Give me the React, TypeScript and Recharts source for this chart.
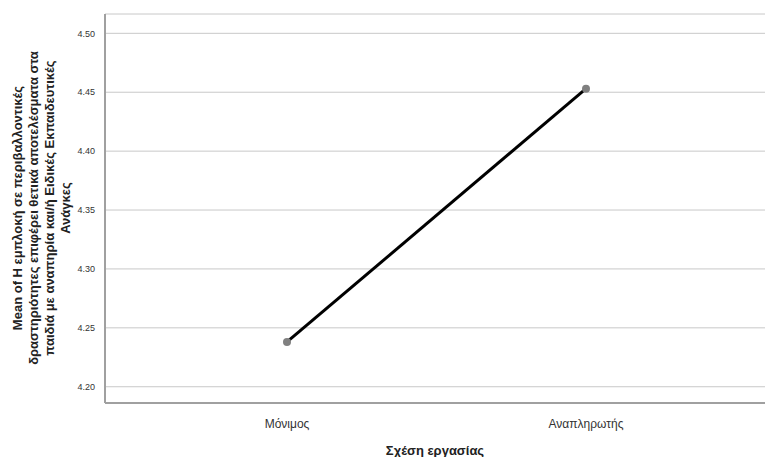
import { LineChart, Line, XAxis, YAxis, CartesianGrid } from 'recharts'

const categories = ['Μόνιμος', 'Αναπληρωτής']
const means = [4.238, 4.453]
const yTicks = [4.2, 4.25, 4.3, 4.35, 4.4, 4.45, 4.5]
const yTitleLines = [
  'Mean of Η εμπλοκή σε περιβαλλοντικές',
  'δραστηριότητες επιφέρει θετικά αποτελέσματα στα',
  'παιδιά με αναπηρία και/ή Ειδικές Εκπαιδευτικές',
  'Ανάγκες',
]

const data = categories.map((c, i) => ({ cat: c, mean: means[i] }))

const FONT = '"Liberation Sans", Arial, sans-serif'

function YTitle() {
  const cy = 208
  const xs = [17, 33, 49, 65]
  return (
    <g>
      {yTitleLines.map((t, i) => (
        <text
          key={i}
          x={xs[i]}
          y={cy}
          transform={`rotate(-90 ${xs[i]} ${cy})`}
          textAnchor="middle"
          dominantBaseline="central"
          fontFamily={FONT}
          fontSize={13}
          fontWeight="bold"
          fill="#222"
        >
          {t}
        </text>
      ))}
    </g>
  )
}

export default function App() {
  return (
    <div style={{ position: 'absolute', left: 0, top: 0, background: '#fff' }}>
      <LineChart
        width={765}
        height={457}
        data={data}
        margin={{ top: 14, right: 0, bottom: 0, left: 0 }}
      >
        <CartesianGrid vertical={false} stroke="#c8c8c8" strokeWidth={1} />
        <XAxis
          dataKey="cat"
          height={54}
          padding={{ left: 182, right: 179 }}
          axisLine={{ stroke: '#a0a0a0', strokeWidth: 2 }}
          tickLine={false}
          tick={{ fontSize: 12, fontFamily: FONT, fill: '#333' }}
          tickMargin={10}
          label={{
            value: 'Σχέση εργασίας',
            position: 'insideBottom',
            offset: 2,
            style: { fontSize: 13, fontWeight: 'bold', fontFamily: FONT, fill: '#222' },
          }}
        />
        <YAxis
          width={105}
          domain={[4.1862, 4.5164]}
          ticks={yTicks}
          allowDataOverflow
          axisLine={{ stroke: '#a0a0a0', strokeWidth: 2 }}
          tickLine={false}
          tickMargin={4}
          tickFormatter={(v: number) => v.toFixed(2)}
          tick={{ fontSize: 9, fontFamily: FONT, fill: '#333' }}
          label={{ content: () => <YTitle /> }}
        />
        <Line
          dataKey="mean"
          type="linear"
          stroke="#000"
          strokeWidth={3}
          dot={{ r: 4, fill: '#808080', stroke: '#808080', strokeWidth: 0 }}
          activeDot={false}
          isAnimationActive={false}
        />
      </LineChart>
    </div>
  )
}
